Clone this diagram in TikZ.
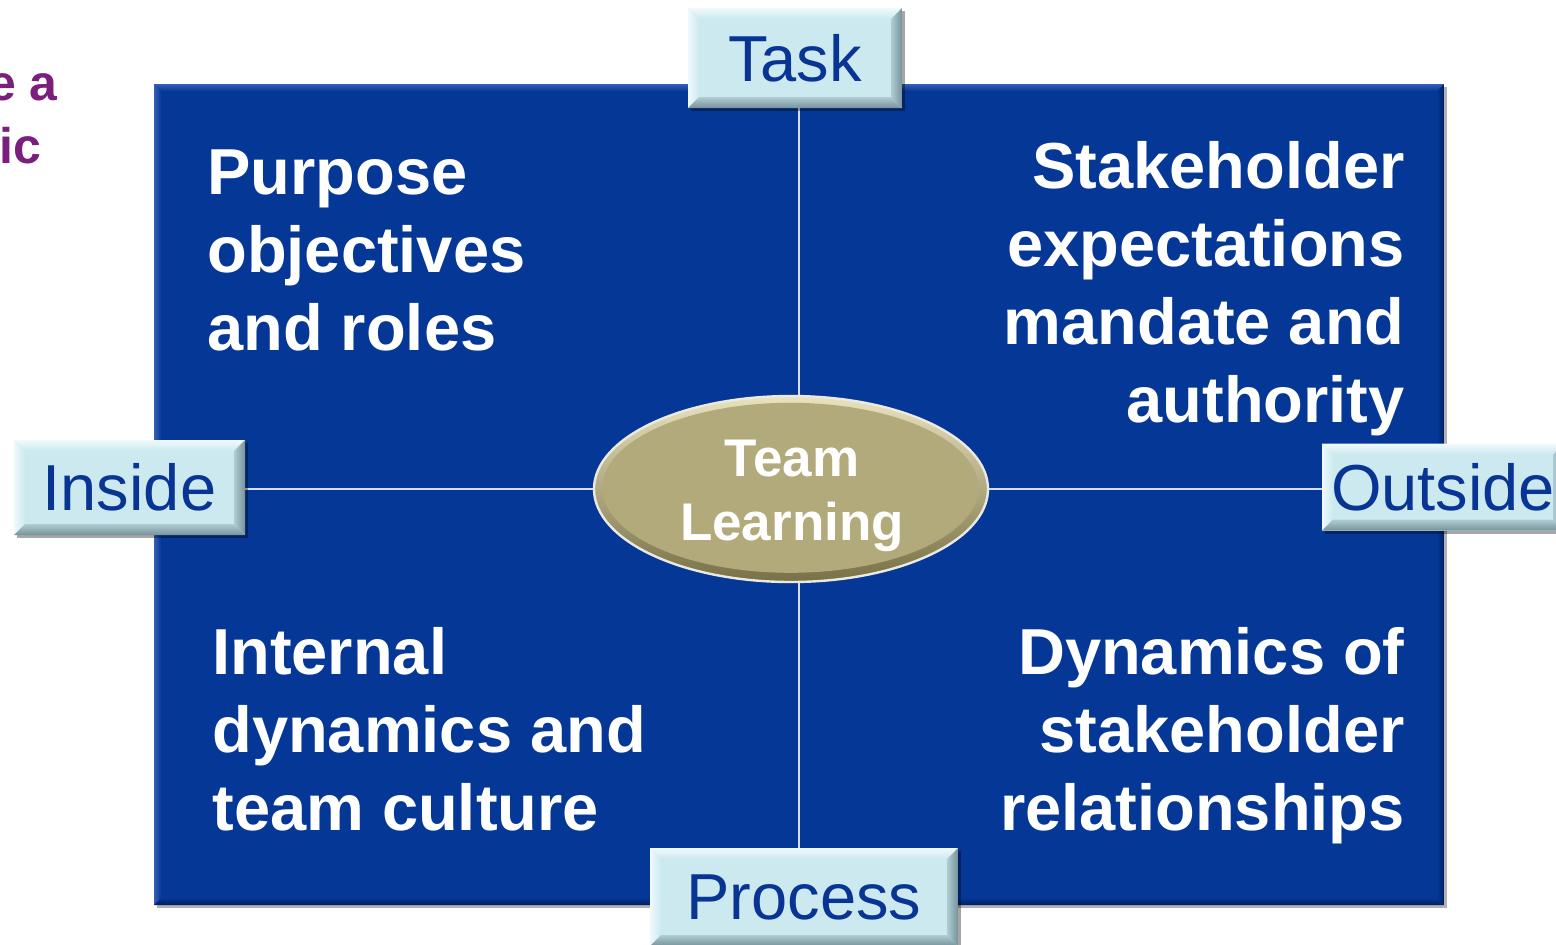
\documentclass[tikz,border=0pt]{standalone}
\usepackage{fontspec}
\setmainfont{Liberation Sans}
\usetikzlibrary{shapes.geometric,calc,shadows}

\definecolor{panel}{RGB}{5,56,150}
\definecolor{panelhi}{RGB}{52,96,182}
\definecolor{panello}{RGB}{2,30,96}
\definecolor{tabfill}{RGB}{204,233,240}
\definecolor{tabhi}{RGB}{240,250,252}
\definecolor{tabmid}{RGB}{176,205,212}
\definecolor{tablo}{RGB}{118,146,154}
\definecolor{tabtext}{RGB}{8,52,148}
\definecolor{hub}{RGB}{178,170,122}
\definecolor{hubhi}{RGB}{232,226,190}
\definecolor{hublo}{RGB}{120,112,70}
\definecolor{hubline}{RGB}{236,234,224}
\definecolor{link}{RGB}{214,221,236}
\definecolor{plum}{RGB}{122,31,124}
\colorlet{panelfill}{panel}
\colorlet{panelmid}{panel}

% panel at the back, connectors above it, everything else on top
\pgfdeclarelayer{back}
\pgfdeclarelayer{links}
\pgfsetlayers{back,links,main}

\tikzset{
  bevelled/.style={
    path picture={
      \path (path picture bounding box.north west) coordinate (p1)
            (path picture bounding box.south east) coordinate (p2);
      \shade[top color=#1hi, bottom color=#1fill]
        (p1) -- (p1 -| p2) -- ($(p1 -| p2)+(-\bev,-\bev)$) -- ($(p1)+(\bev,-\bev)$) -- cycle;
      \shade[left color=#1hi, right color=#1fill]
        (p1) -- ($(p1)+(\bev,-\bev)$) -- ($(p1 |- p2)+(\bev,\bev)$) -- (p1 |- p2) -- cycle;
      \shade[top color=#1mid, bottom color=#1lo]
        (p1 |- p2) -- (p2) -- ($(p2)+(-\bev,\bev)$) -- ($(p1 |- p2)+(\bev,\bev)$) -- cycle;
      \shade[left color=#1mid, right color=#1lo]
        (p2) -- (p1 -| p2) -- ($(p1 -| p2)+(-\bev,-\bev)$) -- ($(p2)+(-\bev,\bev)$) -- cycle;
    }},
  tab/.style={rectangle, inner sep=0pt, fill=tabfill, text=tabtext,
    font=\fontsize{32.5}{38}\selectfont,
    drop shadow={shadow xshift=1.5pt, shadow yshift=-1.5pt, opacity=0.35, fill=black},
    bevelled=tab},
  quad/.style={inner sep=0pt, text=white,
    font=\fontsize{32.5}{39}\selectfont\bfseries},
  head/.style={anchor=base east, inner sep=0pt, text=plum,
    font=\fontsize{25}{30}\selectfont\bfseries},
  link/.style={draw=link, line width=1.4pt},
}

\begin{document}
\begin{tikzpicture}[x=0.5pt, y=-0.5pt]
  \useasboundingbox (0,0) rectangle (1556,944);

  % heading fragments in the left margin
  \node[head] (headA) at (58,100) {e a};
  \node[head] (headB) at (42,163) {ic};

  % blue panel
  \begin{pgfonlayer}{back}
    \def\bev{3.5pt}
    \node[rectangle, inner sep=0pt, fill=panel,
          minimum width=645pt, minimum height=410.5pt,
          drop shadow={shadow xshift=1.5pt, shadow yshift=-1.5pt, opacity=0.3, fill=black},
          bevelled=panel] (panel) at (799,494.5) {};
  \end{pgfonlayer}

  % quadrant texts (anchored on the baseline of their last line)
  \node[quad, anchor=base west, align=left] (tl) at (207,350)
    {Purpose\\objectives\\and roles};
  \node[quad, anchor=base east, align=right] (tr) at (1405,422)
    {Stakeholder\\expectations\\mandate and\\authority};
  \node[quad, anchor=base west, align=left] (bl) at (212,830)
    {Internal\\dynamics and\\team culture};
  \node[quad, anchor=base east, align=right] (br) at (1405,830)
    {Dynamics of\\stakeholder\\relationships};

  % centre ellipse
  \node[ellipse, inner sep=0pt, minimum width=197pt, minimum height=93pt,
        draw=hubline, line width=1.2pt, top color=hubhi, bottom color=hublo,
        path picture={\fill[hub] ([xshift=-0.3pt,yshift=0.6pt]path picture bounding box.center)
                      ellipse (94pt and 42.5pt);}] (hub) at (791,489) {};
  \node[inner sep=0pt, text=white, align=center,
        font=\fontsize{26.5}{32}\selectfont\bfseries] (hubtext) at (792,496)
    {Team\\Learning};

  % label tabs
  \def\bev{5.5pt}
  \node[tab, minimum width=107pt, minimum height=50pt] (task) at (795,58) {Task};
  \node[tab, minimum width=115.5pt, minimum height=47.5pt] (inside) at (129.5,487.5) {Inside};
  \node[tab, minimum width=121pt, minimum height=43.5pt] (outside) at (1443,487) {Outside};
  \node[tab, minimum width=154pt, minimum height=49pt] (process) at (804,897) {Process};

  % connectors from the tabs to the ellipse
  \coordinate (vx) at (799,0);
  \begin{pgfonlayer}{links}
    \draw[link] (task.south -| vx) -- (hub.north -| vx);
    \draw[link] (hub.south -| vx) -- (process.north -| vx);
    \draw[link] (inside.east |- hub.west) -- (hub.west);
    \draw[link] (hub.east) -- (outside.west |- hub.east);
  \end{pgfonlayer}
\end{tikzpicture}
\end{document}
